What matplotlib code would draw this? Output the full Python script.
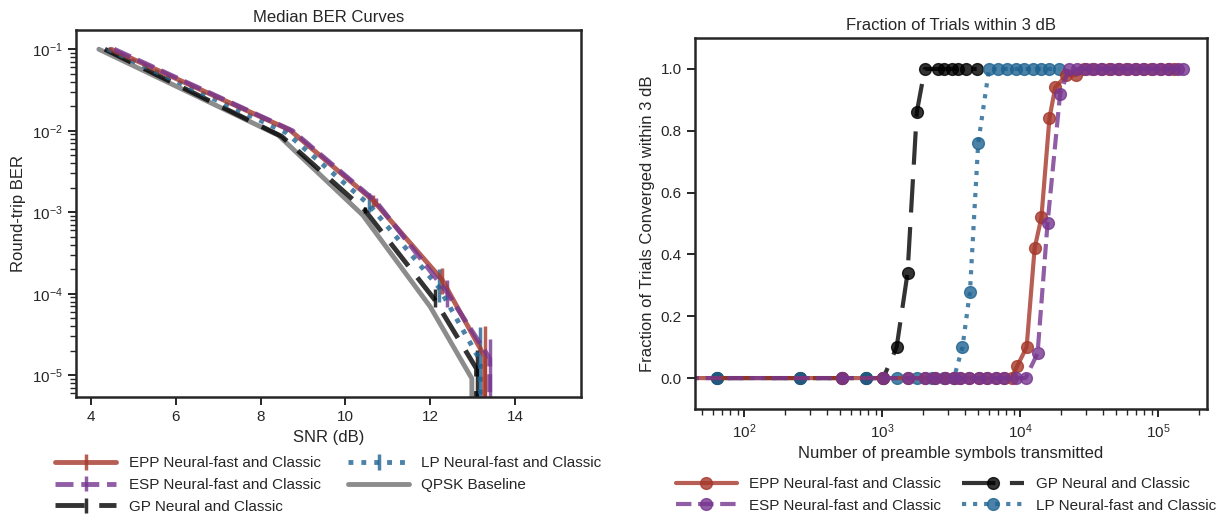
import matplotlib
matplotlib.use("Agg")
import matplotlib.pyplot as plt
import seaborn as sns

sns.set_theme(style="ticks", context="notebook")
plt.rcParams["font.family"] = ["Liberation Sans", "DejaVu Sans"]
plt.rcParams["mathtext.default"] = "regular"
plt.rcParams["axes.linewidth"] = 1.8
plt.rcParams["xtick.major.width"] = 1.4
plt.rcParams["ytick.major.width"] = 1.4

# ---- left panel: median BER vs SNR ----
snr_qpsk = [4.19, 8.42, 10.41, 12.0, 12.98, 12.98]
ber_qpsk = [0.1, 8.8e-3, 9.2e-4, 6.9e-5, 9.1e-6, 0.0]

snr_epp = [4.48, 8.69, 10.65, 12.28, 13.28, 13.28]
ber_epp = [0.1, 1.02e-2, 1.4e-3, 1.48e-4, 1.7e-5, 0.0]
epp_lo = [0, 0, 0.23e-3, 0.48e-4, 1.7e-5, 0]
epp_hi = [0, 0, 0.22e-3, 0.61e-4, 2.3e-5, 0]

snr_esp = [4.55, 8.75, 10.72, 12.39, 13.4, 13.4]
ber_esp = [0.1, 1.0e-2, 1.35e-3, 1.05e-4, 1.6e-5, 0.0]
esp_lo = [0, 0, 0.15e-3, 0.36e-4, 1.6e-5, 0]
esp_hi = [0, 0, 0.15e-3, 0.43e-4, 1.2e-5, 0]

snr_gp = [4.33, 8.5, 10.45, 12.1, 13.09, 13.09]
ber_gp = [0.1, 8.5e-3, 1.07e-3, 8.5e-5, 1.2e-5, 0.0]
gp_lo = [0, 0, 0.1e-3, 0.16e-4, 1.2e-5, 0]
gp_hi = [0, 0, 0.1e-3, 0.3e-4, 0.84e-5, 0]

snr_lp = [4.4, 8.6, 10.55, 12.2, 13.18, 13.18]
ber_lp = [0.1, 9.5e-3, 1.25e-3, 1.2e-4, 1.5e-5, 0.0]
lp_lo = [0, 0, 0.25e-3, 0.41e-4, 1.5e-5, 0]
lp_hi = [0, 0, 0.45e-3, 0.8e-4, 2.4e-5, 0]

# ---- right panel: fraction of trials within 3 dB ----
n_epp = [0, 512, 1024, 1536, 2048, 2432, 2880, 3328, 3712, 4288, 5056, 5824,
         6720, 7680, 8704, 9600, 11200, 12800, 14336, 16384, 18048, 21760,
         25344, 29184, 33536, 38656, 44544, 51200, 58880, 67840, 78080,
         89600, 103168, 118784, 131072]
f_epp = [0, 0, 0, 0, 0, 0, 0, 0, 0, 0, 0, 0, 0, 0, 0, 0.04, 0.10, 0.42, 0.52,
         0.84, 0.94, 0.98, 0.98, 1, 1, 1, 1, 1, 1, 1, 1, 1, 1, 1, 1]

n_esp = [0, 512, 1024, 1536, 2048, 2432, 2880, 3328, 3712, 4288, 5056, 5824,
         6720, 7680, 9344, 11008, 13440, 15872, 19584, 22784, 26112, 30208,
         34560, 39680, 45568, 52480, 60416, 69376, 79872, 91648, 105472,
         121344, 139264, 152064]
f_esp = [0, 0, 0, 0, 0, 0, 0, 0, 0, 0, 0, 0, 0, 0, 0, 0, 0.08, 0.50, 0.92,
         1, 1, 1, 1, 1, 1, 1, 1, 1, 1, 1, 1, 1, 1, 1]

n_gp = [64, 256, 512, 768, 1024, 1280, 1536, 1792, 2048, 2560, 2816, 3200,
        3584, 4096, 4864]
f_gp = [0, 0, 0, 0, 0, 0.10, 0.34, 0.86, 1, 1, 1, 1, 1, 1, 1]

n_lp = [64, 256, 768, 1280, 1792, 2304, 2816, 3328, 3840, 4352, 4992, 5984,
        6912, 8128, 9344, 10752, 12416, 14208, 16384, 19328]
f_lp = [0, 0, 0, 0, 0, 0, 0, 0, 0.10, 0.28, 0.76, 1, 1, 1, 1, 1, 1, 1, 1, 1]

c_epp = "#a5372b"
c_esp = "#76358f"
c_gp = "black"
c_lp = "#1f6391"
c_qpsk = "gray"
dash_gp = (0, (6, 3))

fig = plt.figure(figsize=(12.23, 5.14), dpi=100)
ax1 = fig.add_axes([0.0621, 0.2276, 0.4129, 0.714])
ax2 = fig.add_axes([0.5683, 0.2043, 0.4186, 0.7218])

h_qpsk, = ax1.plot(snr_qpsk, ber_qpsk, color=c_qpsk, lw=3.5, alpha=0.9,
                   label="QPSK Baseline")
h_gp = ax1.errorbar(snr_gp, ber_gp, yerr=[gp_lo, gp_hi], color=c_gp, lw=3.5,
                    elinewidth=2.5, alpha=0.8, linestyle=dash_gp,
                    label="GP Neural and Classic")
h_lp = ax1.errorbar(snr_lp, ber_lp, yerr=[lp_lo, lp_hi], color=c_lp, lw=3.5,
                    elinewidth=2.5, alpha=0.8, linestyle=":",
                    label="LP Neural-fast and Classic")
h_epp = ax1.errorbar(snr_epp, ber_epp, yerr=[epp_lo, epp_hi], color=c_epp,
                     lw=3.5, elinewidth=2.5, alpha=0.8,
                     label="EPP Neural-fast and Classic")
h_esp = ax1.errorbar(snr_esp, ber_esp, yerr=[esp_lo, esp_hi], color=c_esp,
                     lw=3.5, elinewidth=2.5, alpha=0.8, linestyle="--",
                     label="ESP Neural-fast and Classic")
ax1.set_yscale("log")
ax1.set_xlim(3.65, 15.55)
ax1.set_ylim(5.4e-6, 0.172)
ax1.set_title("Median BER Curves")
ax1.set_xlabel("SNR (dB)")
ax1.set_ylabel("Round-trip BER")
ax1.legend([h_epp, h_esp, h_gp, h_lp, h_qpsk],
           ["EPP Neural-fast and Classic", "ESP Neural-fast and Classic",
            "GP Neural and Classic", "LP Neural-fast and Classic",
            "QPSK Baseline"],
           loc="upper center", bbox_to_anchor=(0.5, -0.145), ncol=2,
           frameon=False, handlelength=4, borderaxespad=0, columnspacing=1.8)

g_gp, = ax2.plot(n_gp, f_gp, color=c_gp, lw=3, marker="o", ms=8.5, alpha=0.8,
                 linestyle=(0, (8, 3.5)), label="GP Neural and Classic")
g_lp, = ax2.plot(n_lp, f_lp, color=c_lp, lw=3, marker="o", ms=8.5, alpha=0.8,
                 linestyle=":", label="LP Neural-fast and Classic")
g_epp, = ax2.plot(n_epp, f_epp, color=c_epp, lw=3, marker="o", ms=8.5,
                  alpha=0.8, label="EPP Neural-fast and Classic")
g_esp, = ax2.plot(n_esp, f_esp, color=c_esp, lw=3, marker="o", ms=8.5,
                  alpha=0.8, linestyle="--", label="ESP Neural-fast and Classic")
ax2.set_xscale("log")
ax2.set_xlim(44.3, 2.27e5)
ax2.set_ylim(-0.1, 1.1)
ax2.set_title("Fraction of Trials within 3 dB")
ax2.set_xlabel("Number of preamble symbols transmitted")
ax2.set_ylabel("Fraction of Trials Converged within 3 dB")
ax2.legend([g_epp, g_esp, g_gp, g_lp],
           ["EPP Neural-fast and Classic", "ESP Neural-fast and Classic",
            "GP Neural and Classic", "LP Neural-fast and Classic"],
           loc="upper center", bbox_to_anchor=(0.49, -0.167), ncol=2,
           frameon=False, handlelength=4, borderaxespad=0, columnspacing=1.4)

fig.savefig("out.png", dpi=100)
